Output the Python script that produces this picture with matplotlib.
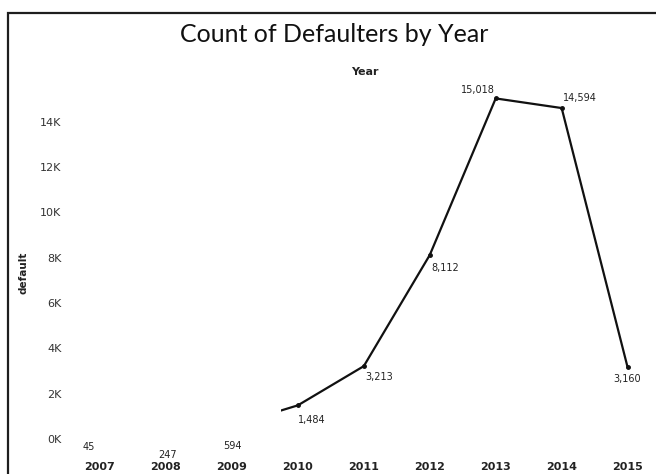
import matplotlib
matplotlib.use("Agg")
import matplotlib.pyplot as plt
from matplotlib.patches import Rectangle

years = [2007, 2008, 2009, 2010, 2011, 2012, 2013, 2014, 2015]
defaults = [45, 247, 594, 1484, 3213, 8112, 15018, 14594, 3160]
y_ticks = [0, 2000, 4000, 6000, 8000, 10000, 12000, 14000]
y_tick_labels = ["0K", "2K", "4K", "6K", "8K", "10K", "12K", "14K"]

# label offsets in pixels (dx, dy) for each point
label_offsets = [(-11, -9), (2, -22), (1, -20), (14, -15), (15, -11),
                 (15, -13), (-18, 8), (18, 10), (0, -12)]

W, H = 656, 474
fig = plt.figure(figsize=(W / 100, H / 100), dpi=100)

# outer frame (only top and left edges fall inside the canvas)
frame = Rectangle((8 / W, -0.2), 1.5, (H - 12.7) / H + 0.2,
                  transform=fig.transFigure, fill=False,
                  edgecolor="#1e1e1e", linewidth=1.6)
fig.patches.append(frame)

left, right, bottom, top = 67, 654, 459, 87.5
ax = fig.add_axes([left / W, (H - bottom) / H, (right - left) / W, (bottom - top) / H])
ax.set_xlim(2006.5, 2015.4)
ax.set_ylim(-20 / 0.02268, 15500)

line, = ax.plot(years, defaults, color="#111111", linewidth=1.6,
                marker="o", markersize=2.5, solid_joinstyle="miter")
clip = Rectangle((2009.74, -1e5), 20, 1e6, transform=ax.transData)
line.set_clip_path(clip)

for x, v, (dx, dy) in zip(years, defaults, label_offsets):
    ax.annotate(f"{v:,}", (x, v), xytext=(dx, dy), textcoords="offset pixels",
                ha="center", va="center", fontsize=7, color="#222222")

ax.set_xticks(years)
ax.set_xticklabels([str(y) for y in years], fontsize=8, color="#222222",
                   fontweight="bold")
ax.set_yticks(y_ticks)
ax.set_yticklabels(y_tick_labels, fontsize=8, color="#333333")
ax.tick_params(length=0, axis="x", pad=2)
ax.tick_params(length=0, axis="y", pad=4)
for s in ax.spines.values():
    s.set_visible(False)

ax.set_ylabel("default", fontsize=7.5, fontweight="bold", color="#222222",
              labelpad=8)

fig.text(334 / W, 1 - 35 / H, "Count of Defaulters by Year", ha="center",
         va="center", fontsize=18, family="Lato", color="#111111")
fig.text(365 / W, 1 - 72 / H, "Year", ha="center", va="center",
         fontsize=8, fontweight="bold", color="#222222")

fig.savefig("out.png", dpi=100)
